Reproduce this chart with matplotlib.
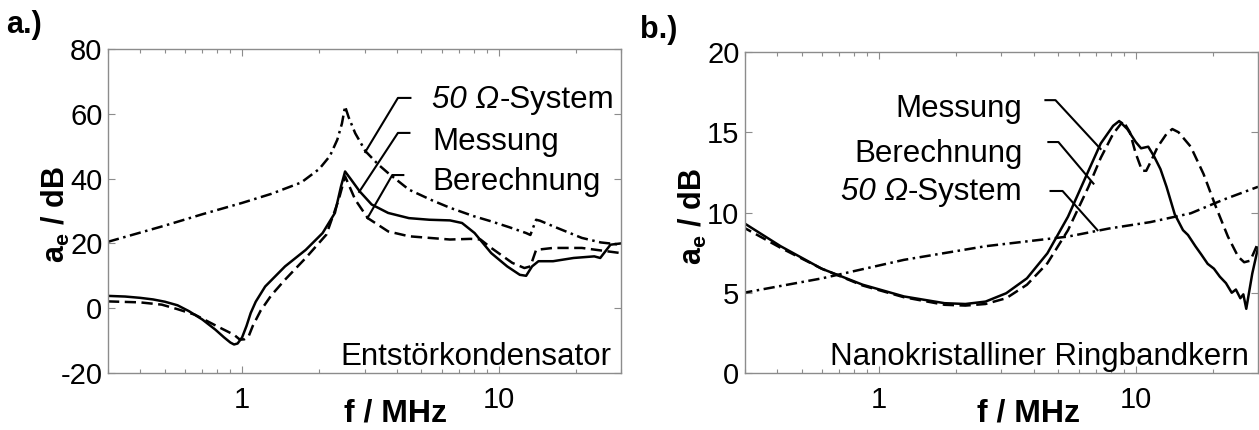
import matplotlib
matplotlib.use("Agg")
import matplotlib.pyplot as plt
from matplotlib.ticker import FixedLocator, FixedFormatter, LogLocator, NullFormatter

plt.rcParams['font.family'] = ['Liberation Sans', 'DejaVu Sans']
plt.rcParams['mathtext.fontset'] = 'custom'
plt.rcParams['mathtext.rm'] = 'Liberation Sans'
plt.rcParams['mathtext.bf'] = 'Liberation Sans:bold'
plt.rcParams['mathtext.it'] = 'Liberation Sans:italic'
plt.rcParams['axes.unicode_minus'] = False

# ---------------- data: panel a (Entstörkondensator) ----------------
f_a_50 = [0.3, 0.5, 0.7, 1.0, 1.3, 1.7, 2.0, 2.2, 2.35, 2.45, 2.52, 2.6, 2.76, 3.03, 3.4,
          3.71, 4.47, 5.5, 6.46, 8.0, 9.36, 11.0, 12.8, 13.3, 14.0, 14.5, 16.3, 21.1, 25.0, 30.0]
a_50 = [20.5, 25.5, 29.0, 32.5, 35.3, 38.8, 43.0, 47.0, 52.0, 57.0, 62.3, 59.0, 54.0, 48.4, 44.3,
        41.7, 36.6, 33.3, 31.0, 28.4, 26.8, 25.0, 23.2, 22.6, 27.3, 27.0, 25.3, 21.7, 20.3, 19.6]

f_a_mess = [0.3, 0.35, 0.4, 0.45, 0.5, 0.56, 0.62, 0.7, 0.786, 0.85, 0.9, 0.93, 0.96, 1.0,
            1.04, 1.08, 1.13, 1.23, 1.47, 1.77, 2.06, 2.3, 2.43, 2.52, 2.66, 2.87, 3.2, 3.71,
            4.47, 5.37, 6.46, 7.2, 8.06, 9.36, 10.8, 12.1, 12.8, 13.5, 14.3, 16.3, 19.6, 23.6,
            24.9, 27.3, 30.0]
a_mess = [3.8, 3.6, 3.2, 2.7, 2.0, 0.9, -0.9, -3.5, -6.6, -9.0, -10.6, -11.2, -10.9, -9.0,
          -5.5, -1.5, 2.0, 6.7, 12.9, 18.0, 23.2, 29.4, 37.6, 42.2, 39.7, 36.1, 32.0, 29.4,
          27.8, 27.3, 27.1, 26.3, 23.2, 17.0, 12.9, 10.3, 10.0, 12.9, 14.5, 14.5, 15.5, 16.0,
          15.5, 19.6, 20.0]

f_a_ber = [0.3, 0.4, 0.486, 0.56, 0.654, 0.8, 0.93, 0.98, 1.02, 1.06, 1.1, 1.18, 1.3, 1.47,
           1.77, 2.13, 2.38, 2.52, 2.76, 3.09, 3.71, 4.47, 6.46, 7.77, 8.5, 9.36, 11.3, 12.6,
           13.3, 14.0, 16.3, 21.1, 30.0]
a_ber = [2.1, 1.8, 1.1, -0.3, -2.0, -5.6, -8.2, -9.7, -9.6, -8.7, -5.5, -0.8, 4.0, 8.8,
         15.5, 22.7, 33.5, 40.7, 33.5, 27.8, 23.7, 22.2, 21.2, 21.4, 21.2, 18.6, 14.0, 12.4,
         12.9, 18.0, 18.6, 18.6, 17.0]

# ---------------- data: panel b (Nanokristalliner Ringbandkern) ----------------
f_b_mess = [0.29, 0.413, 0.597, 0.863, 1.25, 1.8, 2.17, 2.6, 3.13, 3.77, 4.53, 5.45, 6.55,
            7.31, 8.17, 8.63, 9.28, 10.0, 10.5, 11.2, 11.8, 12.5, 13.2, 14.2, 15.3, 16.0, 17.1,
            18.0, 19.1, 20.2, 21.3, 22.5, 23.7, 24.6, 25.6, 26.3, 27.0, 28.5, 30.0]
b_mess = [9.45, 7.9, 6.5, 5.5, 4.77, 4.35, 4.3, 4.45, 4.97, 5.9, 7.46, 9.74, 12.6,
          14.3, 15.4, 15.7, 15.2, 14.4, 14.0, 14.1, 13.5, 12.7, 11.6, 9.9, 8.9, 8.6, 7.9,
          7.4, 6.8, 6.5, 6.0, 5.6, 5.0, 5.2, 4.66, 4.9, 4.0, 6.2, 7.8]

f_b_ber = [0.29, 0.413, 0.597, 0.863, 1.25, 1.8, 2.17, 2.6, 3.13, 3.77, 4.53, 5.45, 6.55,
           7.31, 8.17, 8.94, 9.5, 10.0, 10.6, 11.0, 11.4, 12.2, 13.2, 13.9, 14.7, 16.4, 18.4,
           20.5, 22.9, 25.1, 26.5, 28.0, 30.0]
b_ber = [9.15, 7.8, 6.5, 5.45, 4.72, 4.25, 4.2, 4.3, 4.66, 5.5, 6.84, 8.9, 11.6,
         13.4, 14.9, 15.7, 15.0, 13.7, 12.6, 12.6, 13.1, 14.1, 14.9, 15.2, 15.0, 14.1, 12.4,
         10.4, 8.5, 7.25, 6.9, 7.0, 8.1]

f_b_50 = [0.29, 0.6, 1.25, 2.6, 5.45, 7.86, 11.4, 16.4, 22.0, 30.0]
b_50 = [4.97, 5.9, 7.05, 7.9, 8.5, 9.0, 9.4, 9.95, 10.8, 11.6]

x_ticks = [1, 10]
x_ticklabels = ['1', '10']
y_ticks_a = [-20, 0, 20, 40, 60, 80]
y_ticks_b = [0, 5, 10, 15, 20]

# ---------------- figure ----------------
fig = plt.figure(figsize=(12.59, 4.30), dpi=100)
W, H = 1259.0, 430.0
ax_a = fig.add_axes([108 / W, 1 - 373 / H, 513 / W, 324 / H])
ax_b = fig.add_axes([745 / W, 1 - 373 / H, 513 / W, 321 / H])

LW = 1.8
spine_col = '#8c8c8c'
dash = (0, (4.5, 2.2))
dashdot = (0, (4.5, 1.8, 1.0, 1.8))


def style_axes(ax, yticks, ylim):
    ax.set_xscale('log')
    ax.set_xlim(0.3, 30)
    ax.set_ylim(*ylim)
    ax.xaxis.set_major_locator(FixedLocator(x_ticks))
    ax.xaxis.set_major_formatter(FixedFormatter(x_ticklabels))
    ax.xaxis.set_minor_locator(LogLocator(base=10, subs=range(2, 10)))
    ax.xaxis.set_minor_formatter(NullFormatter())
    ax.set_yticks(yticks)
    ax.set_yticklabels([str(v) for v in yticks])
    for s in ax.spines.values():
        s.set_color(spine_col)
        s.set_linewidth(1.0)
    ax.tick_params(which='both', direction='in', top=True, right=True,
                   color=spine_col, width=0.8, labelsize=21)
    ax.tick_params(which='major', length=5)
    ax.tick_params(which='minor', length=3)
    ax.tick_params(axis='x', pad=9)
    ax.tick_params(axis='y', pad=4)


# ---- panel a ----
style_axes(ax_a, y_ticks_a, (-20, 80))
ax_a.plot(f_a_50, a_50, color='black', lw=LW, linestyle=dashdot)
ax_a.plot(f_a_ber, a_ber, color='black', lw=LW, linestyle=dash)
ax_a.plot(f_a_mess, a_mess, color='black', lw=LW, linestyle='-')

TXT = 22.5
# leader lines (annotation)
ax_a.plot([4.53, 4.05, 3.02], [64.9, 64.9, 48.2], color='black', lw=1.5)
ax_a.plot([4.49, 4.05, 2.86], [54.1, 54.1, 35.9], color='black', lw=1.5)
ax_a.plot([4.25, 3.85, 3.08], [41.1, 41.1, 27.8], color='black', lw=1.5)
t1 = ax_a.text(5.52, 61.8, '50 Ω', fontsize=TXT, style='italic', ha='left', va='baseline')
ax_a.annotate('-System', xy=(1, 0), xycoords=t1, fontsize=TXT, ha='left', va='bottom')
ax_a.text(5.52, 48.8, 'Messung', fontsize=TXT, ha='left', va='baseline')
ax_a.text(5.52, 36.5, 'Berechnung', fontsize=TXT, ha='left', va='baseline')
ax_a.text(0.982, 0.025, 'Entstörkondensator', transform=ax_a.transAxes,
          fontsize=TXT, ha='right', va='baseline')

# ---- panel b ----
style_axes(ax_b, y_ticks_b, (0, 20))
ax_b.plot(f_b_50, b_50, color='black', lw=LW, linestyle=dashdot)
ax_b.plot(f_b_ber, b_ber, color='black', lw=LW, linestyle=dash)
ax_b.plot(f_b_mess, b_mess, color='black', lw=LW, linestyle='-')

ax_b.plot([4.45, 4.87, 7.3], [17.0, 17.0, 13.96], color='black', lw=1.5)
ax_b.plot([4.57, 5.0, 6.85], [14.39, 14.39, 11.8], color='black', lw=1.5)
ax_b.plot([4.66, 5.19, 7.1], [11.34, 11.34, 8.9], color='black', lw=1.5)
ax_b.text(3.62, 15.95, 'Messung', fontsize=TXT, ha='right', va='baseline')
ax_b.text(3.62, 13.15, 'Berechnung', fontsize=TXT, ha='right', va='baseline')
t2 = ax_b.text(3.62, 10.78, '-System', fontsize=TXT, ha='right', va='baseline')
ax_b.annotate('50 Ω', xy=(0, 0), xycoords=t2, fontsize=TXT, style='italic',
              ha='right', va='bottom')
ax_b.text(0.982, 0.025, 'Nanokristalliner Ringbandkern', transform=ax_b.transAxes,
          fontsize=TXT, ha='right', va='baseline')

# ---- axis labels ----
for ax, xl_x, xl_y in ((ax_a, 0.5595, -0.150), (ax_b, 0.5536, -0.151)):
    ax.set_xlabel('f / MHz', fontsize=23, fontweight='bold')
    ax.xaxis.set_label_coords(xl_x, xl_y)
    ax.xaxis.label.set_va('baseline')
    ax.set_ylabel(r'$\mathbf{a_e}$ / dB', fontsize=22, fontweight='bold')
    ax.yaxis.set_label_coords(-0.0838, 0.488)
    ax.yaxis.label.set_va('baseline')

fig.text(6 / W, 1 - 33 / H, 'a.)', fontsize=22, fontweight='bold', ha='left', va='baseline')
fig.text(640 / W, 1 - 38 / H, 'b.)', fontsize=22, fontweight='bold', ha='left', va='baseline')

fig.savefig('out.png', dpi=100)
